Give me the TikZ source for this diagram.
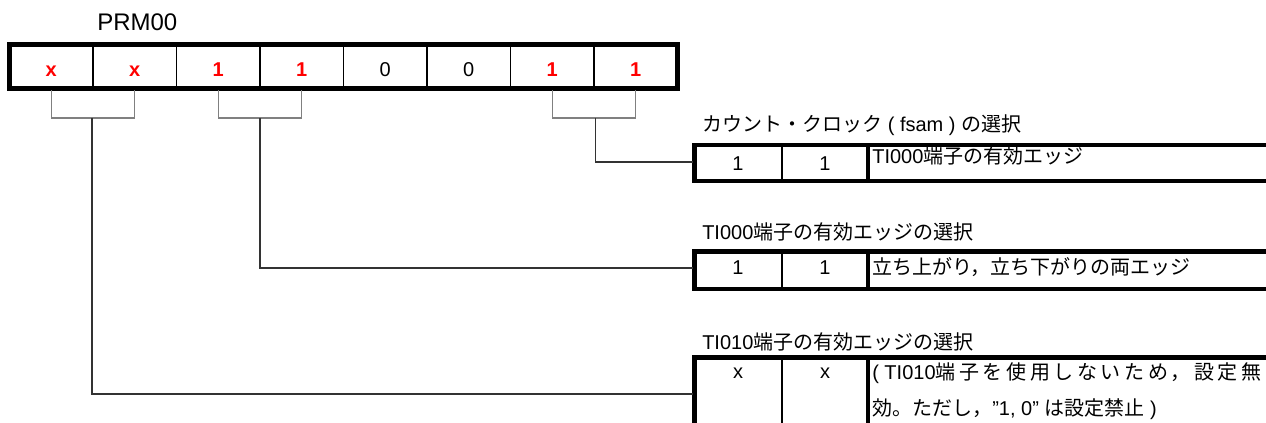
\documentclass[tikz,border=0pt]{standalone}
\usepackage{fontspec}
\setmainfont{Liberation Sans}
\newfontfamily\jp{Noto Sans CJK JP}
\newfontfamily\jpsp[LetterSpace=18]{Noto Sans CJK JP}
\usetikzlibrary{arrows}

\begin{document}
\begin{tikzpicture}[x=0.75pt,y=-0.75pt,font=\fontsize{15}{18}\selectfont]
  \tikzstyle{bit}=[inner sep=0pt,anchor=base]
  \tikzstyle{setbit}=[bit,font=\fontsize{15}{18}\selectfont\bfseries,text=red]
  \tikzstyle{txt}=[inner sep=0pt,anchor=base west]
  \tikzstyle{frame}=[line width=3.6pt]
  \tikzstyle{sep}=[line width=1pt]
  \tikzstyle{bold sep}=[line width=2.6pt]
  \tikzstyle{brace}=[line width=0.9pt,black!50]
  \tikzstyle{link}=[line width=0.9pt,black!80]
  \clip (0,0) rectangle (1266,423);
  % register PRM00
  \node(prm) at (97,31) [txt,font=\fontsize{18}{20}\selectfont]{PRM00};
  \draw[frame] (9.5,44.8) rectangle (677.5,88.2);
  \foreach \x in {93,176.5,260,343.5,427,510.5,594}
    \draw[sep] (\x,46.6)--(\x,86.4);
  \node(b7) at (51.25,76.5) [setbit]{x};
  \node(b6) at (134.75,76.5) [setbit]{x};
  \node(b5) at (218.25,76.5) [setbit]{1};
  \node(b4) at (301.75,76.5) [setbit]{1};
  \node(b3) at (385.25,76.5) [bit]{0};
  \node(b2) at (468.75,76.5) [bit]{0};
  \node(b1) at (552.25,76.5) [setbit]{1};
  \node(b0) at (635.75,76.5) [setbit]{1};
  % brackets under the bit pairs
  \coordinate(reg-s) at (0,90.5);
  \coordinate(br-ti010) at (92,118);
  \coordinate(br-ti000) at (260,118);
  \coordinate(br-clk) at (595.5,118);
  \draw[brace](b7 |- reg-s) |- (br-ti010) -| (b6 |- reg-s);
  \draw[brace](b5 |- reg-s) |- (br-ti000) -| (b4 |- reg-s);
  \draw[brace](b1 |- reg-s) |- (br-clk) -| (b0 |- reg-s);
  % table: count clock
  \node(cap-clk) at (702,132) [txt]{{\jp カウント・クロック} ( fsam ) {\jp の選択}};
  \draw[frame] (694.5,145) rectangle (1280,181);
  \draw[sep] (782,147) -- (782,179);
  \draw[bold sep] (868,147) -- (868,179);
  \node(clk1) at (738,171) [bit]{1};
  \node(clk0) at (825,171) [bit]{1};
  \node(clk-d) at (872,164) [txt]{TI000{\jp 端子の有効エッジ}};
  \coordinate(in-clk) at (692.7,162);
  % table: TI000 edge
  \node(cap-ti000) at (702,240) [txt]{TI000{\jp 端子の有効エッジの選択}};
  \draw[frame] (694.5,251.3) rectangle (1280,289);
  \draw[sep] (782,253) -- (782,287);
  \draw[bold sep] (868,253) -- (868,287);
  \node(ti000-1) at (738,275) [bit]{1};
  \node(ti000-0) at (825,275) [bit]{1};
  \node(ti000-d) at (872,275) [txt]{\jp 立ち上がり，立ち下がりの両エッジ};
  \coordinate(in-ti000) at (692.7,268);
  % table: TI010 edge
  \node(cap-ti010) at (702,350) [txt]{TI010{\jp 端子の有効エッジの選択}};
  \draw[frame] (1280,357.5) -- (694.5,357.5) -- (694.5,440);
  \draw[sep] (782,359) -- (782,440);
  \draw[bold sep] (868,359) -- (868,440);
  \node(ti010-1) at (738,379) [bit]{x};
  \node(ti010-0) at (825,379) [bit]{x};
  \node(ti010-d1) at (872,380) [txt]{( TI010{\jpsp 端子を使用しないため，設定無}};
  \node(ti010-d2) at (872,416) [txt]{{\jp 効。ただし，}”1, 0” {\jp は設定禁止} )};
  \coordinate(in-ti010) at (692.7,394);
  % links to the tables
  \draw[link](br-clk) |- (in-clk);
  \draw[link](br-ti000) |- (in-ti000);
  \draw[link](br-ti010) |- (in-ti010);
\end{tikzpicture}
\end{document}
